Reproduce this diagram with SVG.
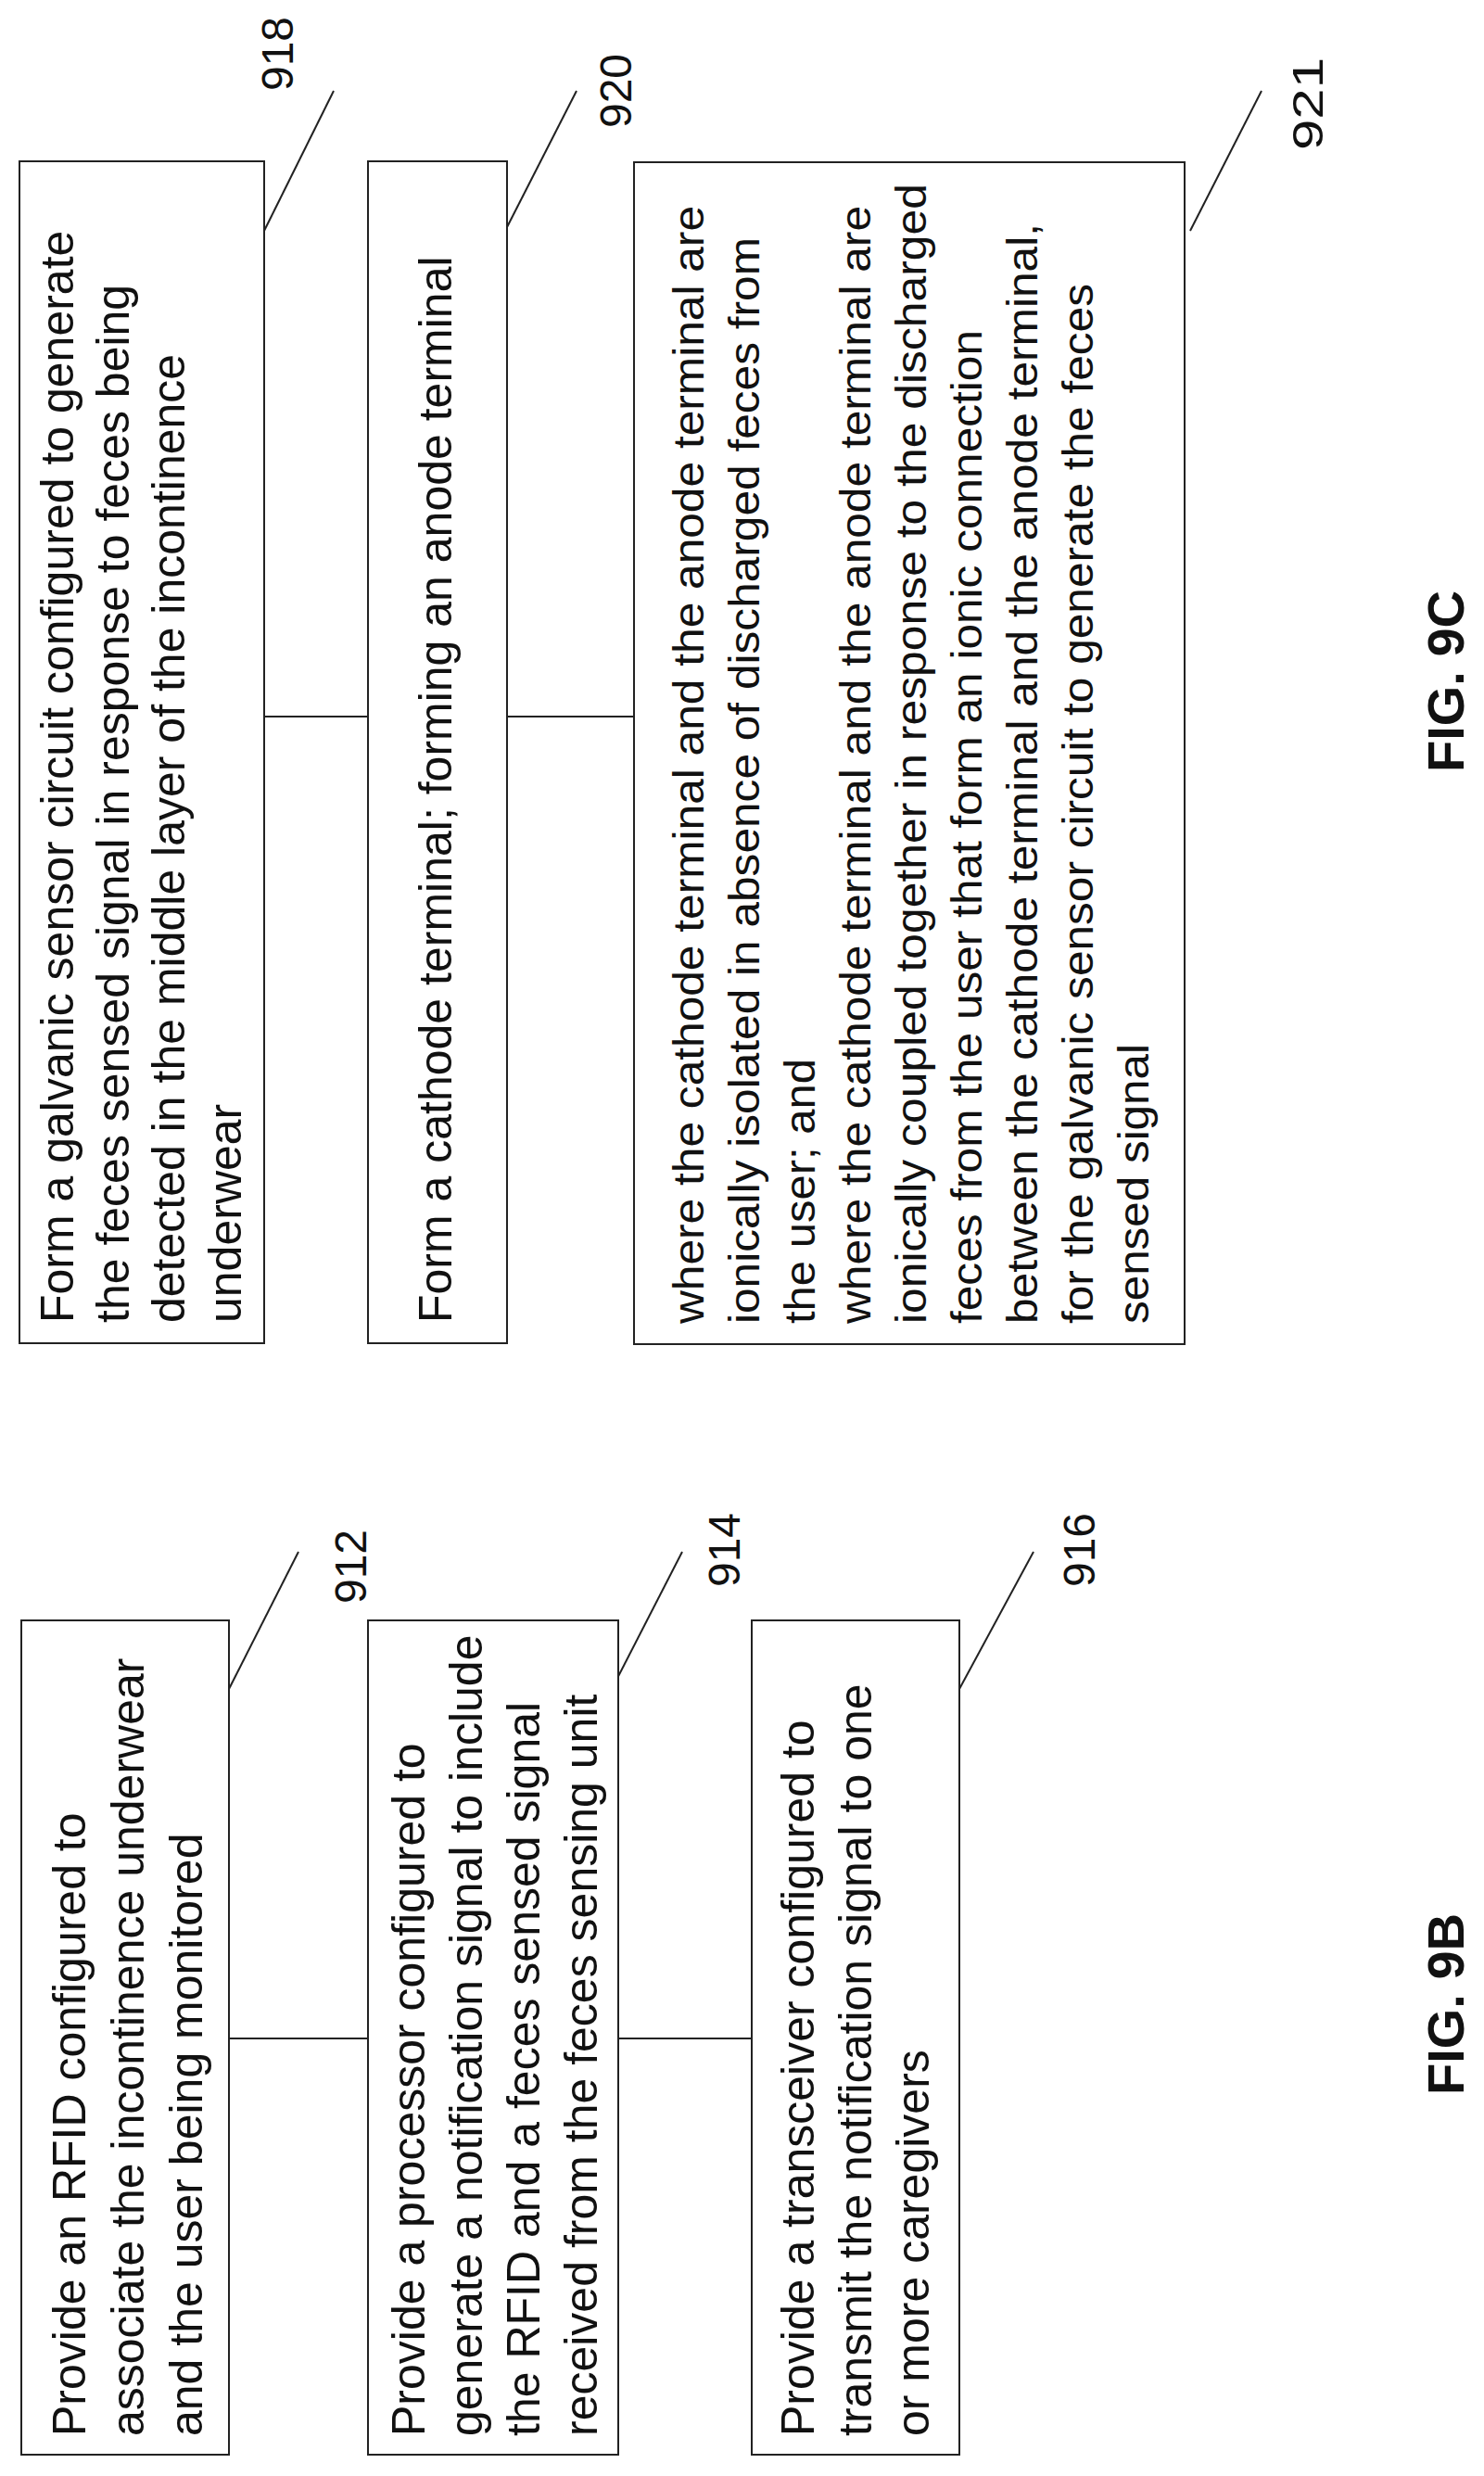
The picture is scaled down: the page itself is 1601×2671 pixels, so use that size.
<svg xmlns="http://www.w3.org/2000/svg" width="1601" height="2671" viewBox="0 0 1601 2671">
<style>
.box{fill:#fff;stroke:#222;stroke-width:2}
.ln{stroke:#222;stroke-width:2;fill:none}
.t{font-family:"Liberation Sans",Arial,sans-serif;font-size:50px;fill:#111}
.n{font-family:"Liberation Sans",Arial,sans-serif;font-size:48px;fill:#111;text-anchor:middle}
.nr{font-family:"Liberation Sans",Arial,sans-serif;font-size:46px;fill:#111}
.fig{font-family:"Liberation Sans",Arial,sans-serif;font-size:56px;font-weight:bold;fill:#111;text-anchor:middle}
</style>
<rect width="1601" height="2671" fill="#fff"/>
<g id="connectors">
<line class="ln" x1="247" y1="2199" x2="397" y2="2199"/>
<line class="ln" x1="667" y1="2199" x2="811" y2="2199"/>
<line class="ln" x1="285" y1="773" x2="397" y2="773"/>
<line class="ln" x1="547" y1="773" x2="684" y2="773"/>
<line class="ln" x1="247" y1="1822" x2="322" y2="1674"/>
<line class="ln" x1="659" y1="1824" x2="736" y2="1674"/>
<line class="ln" x1="1035" y1="1822" x2="1115" y2="1674"/>
<line class="ln" x1="285" y1="249" x2="360" y2="98"/>
<line class="ln" x1="547" y1="245" x2="622" y2="98"/>
<line class="ln" x1="1284" y1="249" x2="1361" y2="98"/>
</g>
<g id="n912">
<rect class="box" x="23" y="1748" width="224" height="900"/>
<g transform="translate(0,2628) rotate(-90)">
<text class="t" x="0" y="92">Provide an RFID configured to</text>
<text class="t" x="0" y="155">associate the incontinence underwear</text>
<text class="t" x="0" y="218">and the user being monitored</text>
</g>
<text class="n" transform="translate(395,1690) rotate(-90)">912</text>
</g>
<g id="n914">
<rect class="box" x="397" y="1748" width="270" height="900"/>
<g transform="translate(0,2628) rotate(-90)">
<text class="t" x="0" y="458">Provide a processor configured to</text>
<text class="t" x="0" y="520">generate a notification signal to include</text>
<text class="t" x="0" y="582">the RFID and a feces sensed signal</text>
<text class="t" x="0" y="644">received from the feces sensing unit</text>
</g>
<text class="n" transform="translate(798,1672) rotate(-90)">914</text>
</g>
<g id="n916">
<rect class="box" x="811" y="1748" width="224" height="900"/>
<g transform="translate(0,2628) rotate(-90)">
<text class="t" x="0" y="878">Provide a transceiver configured to</text>
<text class="t" x="0" y="940">transmit the notification signal to one</text>
<text class="t" x="0" y="1002">or more caregivers</text>
</g>
<text class="n" transform="translate(1181,1672) rotate(-90)">916</text>
</g>
<g id="n918">
<rect class="box" x="21" y="174" width="264" height="1275"/>
<g transform="translate(0,1427) rotate(-90)">
<text class="t" x="0" y="79">Form a galvanic sensor circuit configured to generate</text>
<text class="t" x="0" y="139">the feces sensed signal in response to feces being</text>
<text class="t" x="0" y="199">detected in the middle layer of the incontinence</text>
<text class="t" x="0" y="260">underwear</text>
</g>
<text class="n" transform="translate(316,58) rotate(-90)">918</text>
</g>
<g id="n920">
<rect class="box" x="397" y="174" width="150" height="1275"/>
<g transform="translate(0,1427) rotate(-90)">
<text class="t" x="0" y="487">Form a cathode terminal; forming an anode terminal</text>
</g>
<text class="n" transform="translate(681,98) rotate(-90)">920</text>
</g>
<g id="n921">
<rect class="box" x="684" y="175" width="594" height="1275"/>
<g transform="translate(0,1428) rotate(-90)">
<text class="nr" x="0" y="759" textLength="1206" lengthAdjust="spacingAndGlyphs">where the cathode terminal and the anode terminal are</text>
<text class="nr" x="0" y="819" textLength="1172" lengthAdjust="spacingAndGlyphs">ionically isolated in absence of discharged feces from</text>
<text class="nr" x="0" y="879" textLength="286" lengthAdjust="spacingAndGlyphs">the user; and</text>
<text class="nr" x="0" y="939" textLength="1206" lengthAdjust="spacingAndGlyphs">where the cathode terminal and the anode terminal are</text>
<text class="nr" x="0" y="999" textLength="1230" lengthAdjust="spacingAndGlyphs">ionically coupled together in response to the discharged</text>
<text class="nr" x="0" y="1059" textLength="1072" lengthAdjust="spacingAndGlyphs">feces from the user that form an ionic connection</text>
<text class="nr" x="0" y="1119" textLength="1187" lengthAdjust="spacingAndGlyphs">between the cathode terminal and the anode terminal,</text>
<text class="nr" x="0" y="1179" textLength="1122" lengthAdjust="spacingAndGlyphs">for the galvanic sensor circuit to generate the feces</text>
<text class="nr" x="0" y="1239" textLength="302" lengthAdjust="spacingAndGlyphs">sensed signal</text>
</g>
<text class="nr" text-anchor="middle" transform="translate(1427,112) rotate(-90)" textLength="100" lengthAdjust="spacingAndGlyphs">921</text>
</g>
<g id="labels">
<text class="fig" transform="translate(1579,2162) rotate(-90)">FIG. 9B</text>
<text class="fig" transform="translate(1579,735) rotate(-90)">FIG. 9C</text>
</g>
</svg>
